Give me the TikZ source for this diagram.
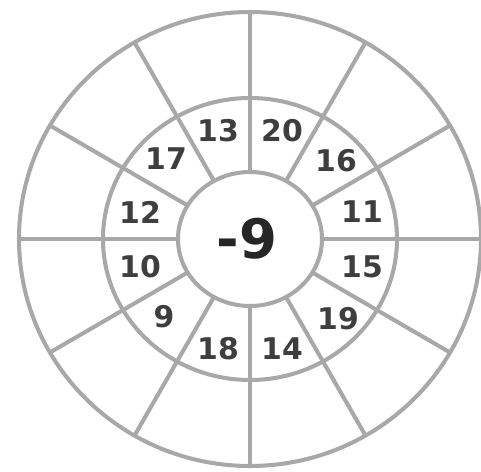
\documentclass[tikz,border=0pt]{standalone}
\usepackage{fontspec}
\setmainfont{DejaVu Sans}
\usepackage{xcolor}
\usepackage{tikz}
\definecolor{ringgray}{HTML}{A8A8A8}
\definecolor{numgray}{HTML}{3E3E3E}
\tikzset{
    ring/.style={draw=ringgray, line width=2.3pt},
    spoke/.style={draw=ringgray, line width=2.3pt},
    num/.style={text=numgray, font=\fontsize{17}{17}\selectfont\bfseries, inner sep=0pt},
    hub/.style={text=black!85, font=\fontsize{31}{31}\selectfont\bfseries, inner sep=0pt}
}

\begin{document}
\begin{tikzpicture}[x=0.02cm, y=0.02cm]
        \useasboundingbox (-250,-232) rectangle (231,239);

        % three rings
        \draw[ring] (0,0) ellipse [x radius=231, y radius=227];
        \draw[ring] (0,0) ellipse [x radius=147, y radius=141];
        \draw[ring] (0,0) ellipse [x radius=72, y radius=67];

        % spokes, inner ring to outer ring
        \draw[spoke] (0:72 and 67) -- (0:231 and 227);
        \draw[spoke] (30:72 and 67) -- (30:231 and 227);
        \draw[spoke] (60:72 and 67) -- (60:231 and 227);
        \draw[spoke] (90:72 and 67) -- (90:231 and 227);
        \draw[spoke] (120:72 and 67) -- (120:231 and 227);
        \draw[spoke] (150:72 and 67) -- (150:231 and 227);
        \draw[spoke] (180:72 and 67) -- (180:231 and 227);
        \draw[spoke] (210:72 and 67) -- (210:231 and 227);
        \draw[spoke] (240:72 and 67) -- (240:231 and 227);
        \draw[spoke] (270:72 and 67) -- (270:231 and 227);
        \draw[spoke] (300:72 and 67) -- (300:231 and 227);
        \draw[spoke] (330:72 and 67) -- (330:231 and 227);

        \node[hub] (hub) at (-3,0) {-9};

        \node[num] (n11) at (112,27) {11};
        \node[num] (n16) at (86,78) {16};
        \node[num] (n20) at (32,108) {20};
        \node[num] (n13) at (-32,108) {13};
        \node[num] (n17) at (-84,80) {17};
        \node[num] (n12) at (-110,27) {12};
        \node[num] (n10) at (-110,-28) {10};
        \node[num] (n9) at (-86,-78) {9};
        \node[num] (n18) at (-32,-110) {18};
        \node[num] (n14) at (32,-110) {14};
        \node[num] (n19) at (88,-80) {19};
        \node[num] (n15) at (112,-28) {15};
    \end{tikzpicture}
\end{document}
